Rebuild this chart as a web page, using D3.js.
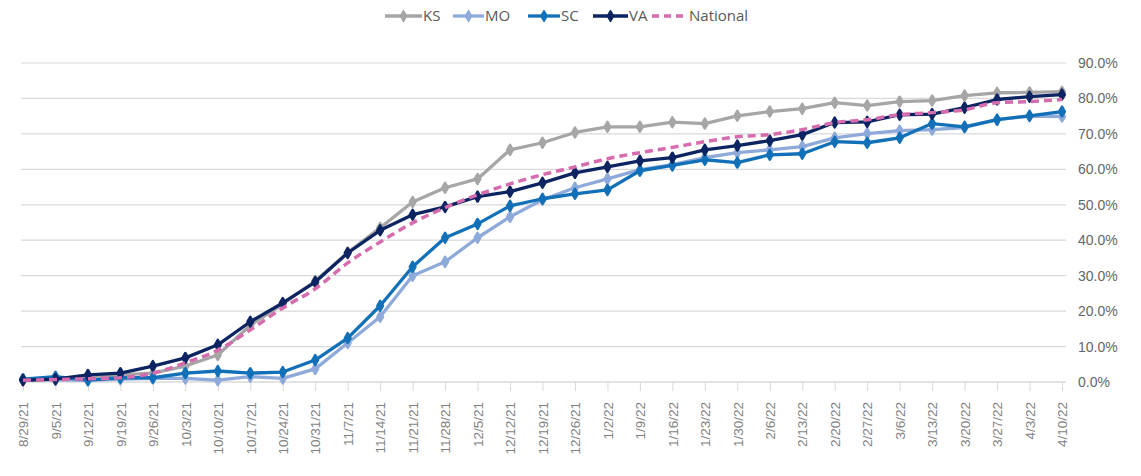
<!DOCTYPE html>
<html>
<head>
<meta charset="utf-8">
<script src="https://cdn.jsdelivr.net/npm/d3@7"></script>
<style>
  body { margin: 0; background: #fff; }
  svg { display: block; font-family: "Open Sans", sans-serif; }
</style>
</head>
<body>
<svg id="chart"></svg>
<script>
const [width, height] = [1141, 476];

const dates = ['8/29/21', '9/5/21', '9/12/21', '9/19/21', '9/26/21', '10/3/21', '10/10/21',
  '10/17/21', '10/24/21', '10/31/21', '11/7/21', '11/14/21', '11/21/21', '11/28/21', '12/5/21',
  '12/12/21', '12/19/21', '12/26/21', '1/2/22', '1/9/22', '1/16/22', '1/23/22', '1/30/22',
  '2/6/22', '2/13/22', '2/20/22', '2/27/22', '3/6/22', '3/13/22', '3/20/22', '3/27/22',
  '4/3/22', '4/10/22'];

const ks = [0.5, 0.8, 1.5, 2.0, 2.5, 4.5, 7.6, 16.0, 22.0, 28.5, 36.5, 43.5, 50.8, 54.8, 57.3,
  65.5, 67.5, 70.4, 72.0, 72.0, 73.3, 72.9, 75.1, 76.3, 77.1, 78.8, 78.0, 79.1, 79.4, 80.8,
  81.6, 81.7, 81.9];
const mo = [0.8, 0.6, 0.5, 0.8, 1.0, 1.0, 0.5, 1.5, 1.0, 3.7, 11.0, 18.4, 30.0, 33.9, 40.7,
  46.6, 51.4, 54.8, 57.3, 59.9, 61.3, 63.3, 64.7, 65.5, 66.4, 68.9, 70.1, 70.9, 71.2, 71.8,
  74.0, 75.0, 74.9];
const sc = [0.8, 1.5, 0.5, 1.2, 1.2, 2.5, 3.1, 2.5, 2.8, 6.2, 12.4, 21.5, 32.5, 40.7, 44.6,
  49.7, 51.7, 53.1, 54.2, 59.6, 61.1, 62.7, 61.9, 64.1, 64.4, 67.8, 67.5, 68.9, 72.9, 72.0,
  74.0, 75.1, 76.3];
const va = [0.5, 0.8, 2.0, 2.5, 4.5, 6.8, 10.5, 17.0, 22.3, 28.2, 36.4, 42.8, 47.2, 49.4, 52.3,
  53.7, 56.2, 59.0, 60.7, 62.4, 63.3, 65.5, 66.7, 68.1, 69.8, 73.2, 73.4, 75.4, 75.6, 77.4,
  79.7, 80.5, 81.1];
const national = [0.5, 0.7, 0.9, 1.2, 2.5, 5.4, 9.0, 14.7, 20.9, 26.3, 33.6, 39.5, 44.9, 49.2,
  52.8, 55.9, 58.5, 60.7, 63.0, 64.7, 66.2, 67.8, 69.2, 69.8, 71.2, 73.2, 74.0, 75.4, 76.0,
  76.8, 78.8, 79.1, 79.7];

const yTicks = [0, 10, 20, 30, 40, 50, 60, 70, 80, 90];

const series = [
  { name: 'KS', values: ks, color: '#a6a6a6' },
  { name: 'MO', values: mo, color: '#8eaadb' },
  { name: 'SC', values: sc, color: '#1170b8' },
  { name: 'VA', values: va, color: '#0c2461' },
  { name: 'National', values: national, color: '#d66bae', dashed: true }
];

const svg = d3.select('#chart')
  .attr('width', width)
  .attr('height', height);

const x = d3.scalePoint()
  .domain(dates)
  .range([23, 1062]);
const y = d3.scaleLinear()
  .domain([0, 90])
  .range([382, 63]);

// gridlines
svg.append('g')
  .selectAll('line')
  .data(yTicks)
  .join('line')
  .attr('x1', 21)
  .attr('x2', 1066)
  .attr('y1', d => y(d))
  .attr('y2', d => y(d))
  .attr('stroke', '#d9d9d9')
  .attr('stroke-width', 1.2);

// right axis labels
const yAxis = svg.append('g')
  .attr('transform', 'translate(1066,0)')
  .call(d3.axisRight(y).tickValues(yTicks).tickSize(0).tickPadding(12)
    .tickFormat(d => d.toFixed(1) + '%'));
yAxis.select('.domain').remove();
yAxis.selectAll('text')
  .attr('fill', '#666')
  .style('font-size', '14px');

// bottom axis
const xAxis = svg.append('g')
  .attr('transform', `translate(0,${y(0)})`)
  .call(d3.axisBottom(x).tickSize(9).tickPadding(4));
xAxis.select('.domain').attr('stroke', '#d9d9d9').attr('stroke-width', 1.2)
  .attr('d', 'M21,0H1066');
xAxis.selectAll('.tick line').attr('stroke', '#d9d9d9');
xAxis.selectAll('text')
  .attr('fill', '#7f7f7f')
  .style('font-size', '13.5px')
  .attr('text-anchor', 'end')
  .attr('transform', 'rotate(-90)')
  .attr('x', -20)
  .attr('y', 0)
  .attr('dy', '0.35em');

const diamond = d3.symbol().type(d3.symbolDiamond).size(28);

series.forEach(s => {
  const g = svg.append('g');
  const line = d3.line()
    .x((d, i) => x(dates[i]))
    .y(d => y(d))
    .curve(s.dashed ? d3.curveMonotoneX : d3.curveLinear);
  g.append('path')
    .datum(s.values)
    .attr('fill', 'none')
    .attr('stroke', s.color)
    .attr('stroke-width', s.dashed ? 3.5 : 3.3)
    .attr('stroke-dasharray', s.dashed ? '8,5' : null)
    .attr('stroke-linejoin', 'round')
    .attr('d', line);
  if (!s.dashed) {
    g.selectAll('path.pt')
      .data(s.values)
      .join('path')
      .attr('class', 'pt')
      .attr('transform', (d, i) => `translate(${x(dates[i])},${y(d)})`)
      .attr('d', diamond)
      .attr('fill', s.color)
      .attr('stroke', s.color)
      .attr('stroke-width', 2.5)
      .attr('stroke-linejoin', 'round');
  }
});

// legend
const legendX = [385, 453, 528, 593, 652];
const legendLen = [37, 31, 32, 35, 33];
const legend = svg.append('g');
series.forEach((s, i) => {
  const lg = legend.append('g').attr('transform', `translate(${legendX[i]},16)`);
  lg.append('line')
    .attr('x1', 0).attr('x2', legendLen[i])
    .attr('stroke', s.color)
    .attr('stroke-width', 3.3)
    .attr('stroke-dasharray', s.dashed ? '7,5' : null);
  if (!s.dashed) {
    lg.append('path')
      .attr('transform', `translate(${legendLen[i] / 2},0)`)
      .attr('d', diamond)
      .attr('fill', s.color)
      .attr('stroke', s.color)
      .attr('stroke-width', 2)
      .attr('stroke-linejoin', 'round');
  }
  lg.append('text')
    .attr('x', legendLen[i] + (s.dashed ? 4 : 1))
    .attr('dy', '0.35em')
    .attr('fill', '#595959')
    .style('font-size', '15px')
    .text(s.name);
});
</script>
</body>
</html>
